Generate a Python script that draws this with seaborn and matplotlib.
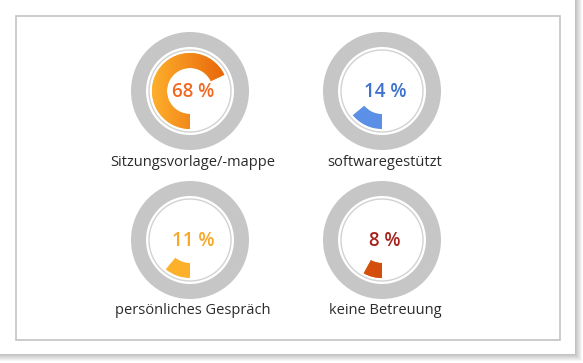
import numpy as np
import matplotlib
matplotlib.use("Agg")
import matplotlib.pyplot as plt
from matplotlib.patches import Rectangle, Circle
import seaborn as sns

# Data
labels = ["Sitzungsvorlage/-mappe", "softwaregestützt", "persönliches Gespräch", "keine Betreuung"]
values = [68, 14, 11, 8]
arc_left = ["#FDAE2C", "#5B90E6", "#FDB12B", "#DB560C"]
arc_right = ["#E8640A", "#5B90E6", "#FDB12B", "#CB450A"]
text_colors = ["#F26A22", "#3E72CE", "#F7A828", "#A8221C"]

sns.set_theme(style="white")
plt.rcParams["font.family"] = ["Open Sans", "DejaVu Sans"]

W, H = 583, 363
fig = plt.figure(figsize=(W / 100, H / 100), dpi=100)
ax = fig.add_axes([0, 0, 1, 1])

# card with soft shadow
for i in range(7, 0, -1):
    ax.add_patch(Rectangle((0, 0), 575 + i, 354 + i, facecolor="#000000",
                           alpha=0.035, edgecolor="none", zorder=0))
ax.add_patch(Rectangle((0, 0), 575, 354, facecolor="white", edgecolor="none", zorder=1))
ax.add_patch(Rectangle((15.5, 15.5), 544, 324, facecolor="none", edgecolor="#C4C4C4",
                       lw=1.2, zorder=2))

centers = [(190, 91), (382, 91), (190, 240), (382, 240)]

for (cx, cy), lab, val, cl, cr, tc in zip(centers, labels, values, arc_left, arc_right, text_colors):
    # grey outer ring
    ax.pie([1], radius=59, center=(cx, cy), colors=["#C6C6C6"],
           wedgeprops=dict(width=15, edgecolor="none"))
    # thin inner circle
    ax.add_patch(Circle((cx, cy), 41, facecolor="white", edgecolor="#D2D2D2", lw=1, zorder=3))
    # value arc, starting at the bottom and running clockwise
    wedges, _ = ax.pie([val, 100 - val], radius=38, center=(cx, cy), startangle=90,
                       counterclock=True, colors=[cl, "none"],
                       wedgeprops=dict(width=15, edgecolor="none"))
    w = wedges[0]
    w.set_zorder(4)
    if cl != cr:
        grad = np.linspace(0, 1, 64).reshape(1, -1)
        cmap = matplotlib.colors.LinearSegmentedColormap.from_list("g", [cl, cr])
        im = ax.imshow(grad, cmap=cmap, extent=(cx - 38, cx + 38, cy + 38, cy - 38),
                       aspect="auto", zorder=5, interpolation="bilinear")
        im.set_clip_path(w)
    ax.text(cx + 3, cy + 1, f"{val} %", ha="center", va="center", fontsize=13.5,
            fontweight="semibold", color=tc, zorder=6)
    ax.text(cx + 3, cy + 71, lab, ha="center", va="center", fontsize=10.5,
            color="#2B2B2B", zorder=6)

ax.set_xlim(0, W)
ax.set_ylim(H, 0)
ax.set_aspect("equal")
ax.axis("off")

fig.savefig("out.png", dpi=100, facecolor="white")
